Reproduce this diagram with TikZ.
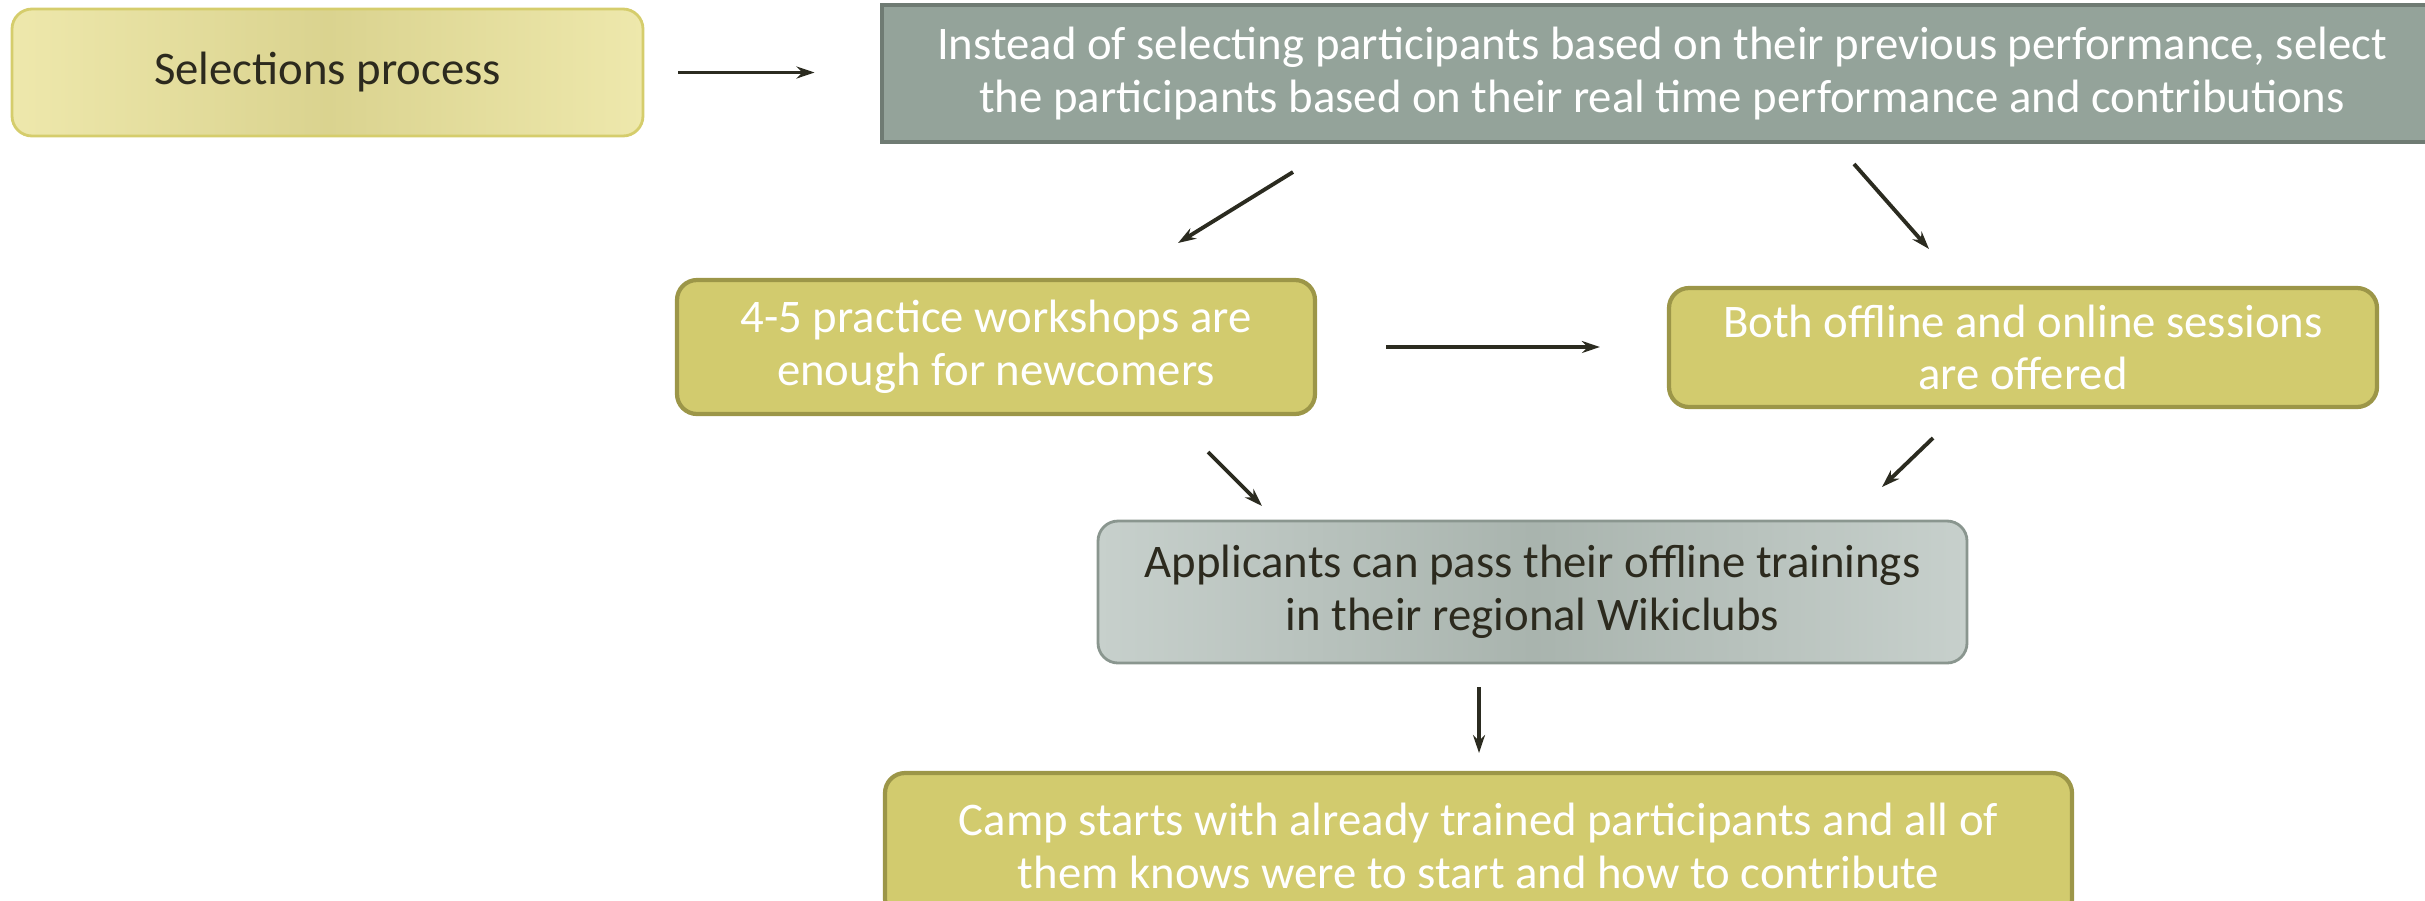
\documentclass[tikz,border=0pt]{standalone}
\usepackage{fontspec}
\setmainfont{Carlito}
\usetikzlibrary{arrows.meta}
\definecolor{olivefill}{HTML}{D2CB6E}
\definecolor{olivedraw}{HTML}{9C9648}
\definecolor{greenfill}{HTML}{94A39A}
\definecolor{greendraw}{HTML}{6F7B73}
\definecolor{yelledge}{HTML}{EEE8AC}
\definecolor{yellmid}{HTML}{DAD38F}
\definecolor{yelldraw}{HTML}{D5CD6C}
\definecolor{greyedge}{HTML}{C7D0CC}
\definecolor{greymid}{HTML}{A9B4AE}
\definecolor{greydraw}{HTML}{8A968F}
\definecolor{darktext}{HTML}{2C2A1E}
\definecolor{arrowcol}{HTML}{2B2B20}
\tikzset{
  basebox/.style={align=center, inner sep=0pt, font=\fontsize{13.3}{15}\selectfont},
  yellbox/.style={basebox, rounded corners=0.2cm, draw=yelldraw, line width=0.8pt,
    left color=yelledge, right color=yelledge, middle color=yellmid, text=darktext},
  greenbox/.style={basebox, draw=greendraw, line width=1.4pt, fill=greenfill, text=white},
  olivebox/.style={basebox, rounded corners=0.2cm, draw=olivedraw, line width=1.2pt, fill=olivefill, text=white},
  greybox/.style={basebox, rounded corners=0.2cm, draw=greydraw, line width=0.8pt,
    left color=greyedge, right color=greyedge, middle color=greymid, text=darktext},
  conn/.style={draw=arrowcol, line width=1.1pt, -{Stealth[length=0.18cm, width=0.12cm]}}
}
\begin{document}
\begin{tikzpicture}
\useasboundingbox (0,0) rectangle (24.25,-9);
\node[yellbox, minimum width=6.31cm, minimum height=1.27cm] (b1) at (3.275,-0.725) {Selections process};
\node[greenbox, minimum width=15.6cm, minimum height=1.37cm] (b2) at (16.62,-0.735)
  {Instead of selecting participants based on their previous performance, select\\the participants based on their real time performance and contributions};
\node[olivebox, minimum width=6.38cm, minimum height=1.34cm] (b3) at (9.96,-3.47)
  {4-5 practice workshops are\\enough for newcomers};
\node[olivebox, minimum width=7.08cm, minimum height=1.19cm] (b4) at (20.23,-3.475)
  {Both offline and online sessions\\are offered};
\node[greybox, minimum width=8.69cm, minimum height=1.42cm] (b5) at (15.325,-5.92)
  {Applicants can pass their offline trainings\\in their regional Wikiclubs};
\node[olivebox, minimum width=11.87cm, minimum height=1.46cm] (b6) at (14.785,-8.46)
  {Camp starts with already trained participants and all of\\them knows were to start and how to contribute};
\coordinate (a2s) at (12.93,-1.72);
\coordinate (a2e) at (11.78,-2.43);
\coordinate (a3s) at (18.54,-1.64);
\coordinate (a3e) at (19.29,-2.49);
\coordinate (a5s) at (12.08,-4.52);
\coordinate (a5e) at (12.62,-5.06);
\coordinate (a6s) at (19.33,-4.38);
\coordinate (a6e) at (18.82,-4.87);
\coordinate (a7s) at (14.79,-6.87);
\coordinate (a7e) at (14.79,-7.53);
\draw[conn, shorten <=0.34cm, shorten >=0.65cm] (b1.east) -- (b1.east -| b2.west);
\draw[conn] (a2s) -- (a2e);
\draw[conn] (a3s) -- (a3e);
\draw[conn, shorten <=0.69cm, shorten >=0.67cm] (b3.east) -- (b3.east -| b4.west);
\draw[conn] (a5s) -- (a5e);
\draw[conn] (a6s) -- (a6e);
\draw[conn] (a7s) -- (a7e);
\end{tikzpicture}
\end{document}
